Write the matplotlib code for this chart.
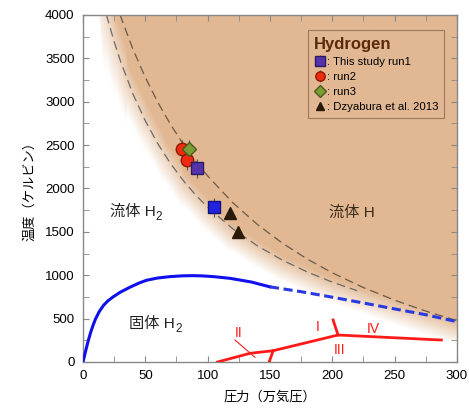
import numpy as np
import matplotlib
matplotlib.use('Agg')
import matplotlib.pyplot as plt
from matplotlib.colors import to_rgb

plt.rcParams['font.family'] = ['Liberation Sans', 'Noto Sans CJK JP', 'DejaVu Sans']

# measured points (pressure in 万気圧, temperature in K)
run1_p = [91.5]
run1_t = [2230]
run1b_p = [105.5]
run1b_t = [1785]
run2_p = [79.5, 83.5]
run2_t = [2450, 2325]
run3_p = [85.0]
run3_t = [2450]
dz_p = [118.0, 124.0]
dz_t = [1715, 1500]

# melting line of solid H2 (solid part, then extrapolated part)
melt_p = [0, 2, 4, 6, 8, 10, 13, 16.3, 20, 24.3, 30, 37.7, 45, 51, 60, 70, 80, 88.5,
          96, 104.5, 118, 135, 150]
melt_t = [0, 120, 235, 335, 420, 495, 580, 650, 705, 752, 805, 862, 910, 942, 968, 984,
          993, 995, 992, 984, 964, 922, 866]
melt_ext_p = [150, 175, 198, 225, 250, 275, 300]
melt_ext_t = [866, 810, 752, 680, 612, 545, 465]

# dashed guide curves
upper_p = [29.7, 40, 50, 60, 70, 80, 90, 100, 120, 140, 160, 180, 200, 225, 250, 275, 300]
upper_t = [4000, 3607, 3279, 2993, 2743, 2520, 2322, 2144, 1838, 1584, 1370, 1186, 1028, 858, 713, 587, 477]
lower_p = [18.8, 25, 30, 40, 50, 60, 70, 80, 90, 100, 120, 140, 160, 180, 200, 220]
lower_t = [4000, 3691, 3470, 3091, 2779, 2516, 2292, 2099, 1931, 1784, 1537, 1338, 1174, 1037, 921, 822]

# edge of the shaded fluid-H region
edge_p = [0, 14, 18, 25, 35, 50, 65, 80, 100, 118, 140, 160, 198, 250, 300]
edge_t = [5000, 4300, 4000, 3600, 3150, 2720, 2330, 2000, 1680, 1440, 1240, 1070, 830, 570, 335]

# solid phase boundaries
solid_p = [108, 134, 152.6, 204.7, 287.6]
solid_t = [0, 100, 130, 311, 253]
branch1_p = [204.7, 200.7]
branch1_t = [311, 484]
branch2_p = [152.6, 149.4]
branch2_t = [130, 0]
pointer_p = [122, 138]
pointer_t = [253, 54]

fig = plt.figure(figsize=(4.69, 4.13), dpi=100)
ax = fig.add_axes([0.177, 0.1235, 0.797, 0.8405])
ax.set_xlim(0, 300)
ax.set_ylim(0, 4000)

# soft-edged shading
peach = np.array(to_rgb('#e2b893'))
gp = np.linspace(0, 300, 600)
gt = np.linspace(0, 4000, 700)
P, T = np.meshgrid(gp, gt)
px_p = 374 / 300
px_t = 347 / 4000
tb = np.interp(gp, edge_p, edge_t)
slope = np.gradient(tb, gp) * px_t / px_p
dist = (T - tb[None, :]) * px_t / np.sqrt(1 + slope[None, :] ** 2)
alpha = np.clip(0.5 + dist / 24, 0, 1)
img = np.ones((len(gt), len(gp), 4))
img[..., :3] = peach
img[..., 3] = alpha
ax.imshow(img, extent=[0, 300, 0, 4000], origin='lower', aspect='auto', zorder=0)

ax.plot(upper_p, upper_t, ls=(0, (7, 4)), color='#6a5a4a', lw=0.9, zorder=2)
ax.plot(lower_p, lower_t, ls=(0, (7, 4)), color='#6a6a6a', lw=0.9, zorder=2)

ax.plot(melt_p, melt_t, color='#1010ee', lw=2.2, zorder=3)
ax.plot(melt_ext_p, melt_ext_t, color='#2a3ae0', lw=2.2, ls=(0, (3, 1.5)), zorder=3)

red = '#ff1a1a'
ax.plot(solid_p, solid_t, color=red, lw=2, zorder=3)
ax.plot(branch1_p, branch1_t, color=red, lw=2, zorder=3)
ax.plot(branch2_p, branch2_t, color=red, lw=2, zorder=3)
ax.plot(pointer_p, pointer_t, color=red, lw=0.8, zorder=3)
for txt, p, t in [('II', 125, 330), ('I', 188, 400), ('IV', 233, 380), ('III', 206, 140)]:
    ax.text(p, t, txt, color=red, fontsize=10, ha='center', va='center', zorder=4)


def label_h2(p, t, base, sub, color):
    txt = ax.text(p, t, base, fontsize=11, color=color, ha='right', va='center', zorder=4)
    if sub:
        ax.annotate(sub, xy=(1.0, 0.12), xycoords=txt, fontsize=8.5, color=color,
                    ha='left', va='center', zorder=4)


label_h2(58, 1730, '流体 H', '2', '#222222')
ax.text(216, 1716, '流体 H', fontsize=11, color='#3a2a1a', ha='center', va='center')
label_h2(74, 440, '固体 H', '2', '#222222')

eb = dict(ls='none', ecolor='#555555', elinewidth=0.8, capsize=0, zorder=5)
ax.errorbar(run2_p, run2_t, yerr=110, marker='o', ms=9, mfc='#f02a10', mec='#8a1a00',
            label=': run2', **eb)
ax.errorbar(run3_p, run3_t, yerr=110, marker='D', ms=7.5, mfc='#7c9c34', mec='#4a5a20',
            label=': run3', **eb)
ax.errorbar(run1_p, run1_t, yerr=110, marker='s', ms=9, mfc='#5533aa', mec='#2a1a66',
            label=': This study run1', **eb)
ax.errorbar(run1b_p, run1b_t, yerr=110, marker='s', ms=9, mfc='#2222e0', mec='#10107a', **eb)
ax.plot(dz_p, dz_t, ls='none', marker='^', ms=8, color='#2a1a0a', label=': Dzyabura et al. 2013',
        zorder=5)

h, l = ax.get_legend_handles_labels()
order = [l.index(': This study run1'), l.index(': run2'), l.index(': run3'),
         l.index(': Dzyabura et al. 2013')]
leg = ax.legend([h[i] for i in order], [l[i] for i in order], loc='upper right',
                bbox_to_anchor=(0.982, 0.972), title='Hydrogen', fontsize=8.2,
                frameon=True, fancybox=False, handletextpad=0.1, handlelength=1.0,
                borderpad=0.55, labelspacing=0.45, markerscale=0.75)
leg.get_frame().set_facecolor('none')
leg.get_frame().set_edgecolor('#8a6a50')
leg.get_frame().set_linewidth(0.8)
leg.get_title().set_fontweight('bold')
leg.get_title().set_fontsize(12)
leg.get_title().set_color('#5a2a0a')
leg._legend_box.align = 'left'

ax.set_xticks(np.arange(0, 301, 50))
ax.set_yticks(np.arange(0, 4001, 500))
ax.set_xticks(np.arange(0, 301, 25), minor=True)
ax.set_yticks(np.arange(0, 4001, 250), minor=True)
ax.tick_params(which='both', direction='in', top=True, right=True, color='#888888',
               labelsize=9.5, pad=6)
ax.tick_params(which='major', length=4)
ax.tick_params(which='minor', length=4)
for s in ax.spines.values():
    s.set_color('#888888')
    s.set_linewidth(1.0)

ax.set_xlabel('圧力（万気圧）', fontsize=9.5, labelpad=6)
ax.set_ylabel('温度（ケルビン）', fontsize=9.5, labelpad=6)

fig.savefig('out.png', dpi=100)
